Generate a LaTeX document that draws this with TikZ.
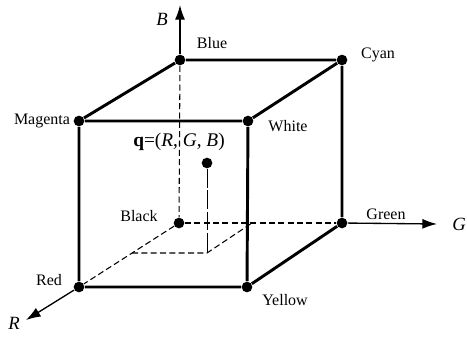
\documentclass[tikz,border=0pt]{standalone}
\usepackage{fontspec}
\setmainfont{Liberation Serif}
\usetikzlibrary{arrows.meta}
\tikzset{every picture/.style={line width=0.75pt}}
\tikzset{
    vertex/.style={circle, fill=black, inner sep=0pt, minimum size=8pt},
    edge/.style={line width=2.2pt},
    hidden/.style={line width=0.8pt, dash pattern={on 4.5pt off 2.5pt}},
    axis/.style={line width=1pt, -{Latex[length=11pt,width=7.5pt]}},
    colorlabel/.style={font=\fontsize{12}{14}\selectfont, inner sep=0pt},
    axislabel/.style={font=\fontsize{14}{16}\selectfont\itshape, inner sep=0pt}
}

\begin{document}
\begin{tikzpicture}[x=0.75pt, y=-0.75pt]
    \useasboundingbox (0,0) rectangle (467,336);
    \node[vertex] (blue) at (180,60) {};
    \node[vertex] (cyan) at (342,60) {};
    \node[vertex] (magenta) at (79,121) {};
    \node[vertex] (white) at (248,121) {};
    \node[vertex] (black) at (179,223) {};
    \node[vertex] (green) at (342,223) {};
    \node[vertex] (red) at (79,287) {};
    \node[vertex] (yellow) at (247,287) {};
    \node[vertex] (q) at (207,163) {};
    \coordinate (floorL) at (132,253);
    \coordinate (floorC) at (207,253);
    \coordinate (floorR) at (252,223);
    \coordinate (axisB) at (180,5);
    \coordinate (axisG) at (437,224);
    \coordinate (axisR) at (26,320);
    % hidden lines
    \draw[hidden] (blue) -- (black);
    \draw[hidden] (black) -- (green);
    \draw[hidden] (black) -- (red);
    \draw[hidden] (floorL) -- (floorC) -- (floorR);
    \draw[line width=0.6pt, dash pattern={on 14pt off 2pt}] (q) -- (floorC);
    % cube
    \draw[edge] (magenta) -- (white) -- (yellow) -- (red) -- (magenta);
    \draw[edge] (blue) -- (cyan) -- (green) -- (yellow);
    \draw[edge] (magenta) -- (blue);
    \draw[edge] (white) -- (cyan);
    % axes
    \draw[axis] (blue) -- (axisB);
    \draw[axis] (green) -- (axisG);
    \draw[axis] (red) -- (axisR);
    % labels
    \node[axislabel] (labelB) at (162,19) {B};
    \node[axislabel] (labelG) at (459,224) {G};
    \node[axislabel] (labelR) at (14,323) {R};
    \node[colorlabel] (nameBlue) at (212,43) {Blue};
    \node[colorlabel] (nameCyan) at (378,55) {Cyan};
    \node[colorlabel] (nameMagenta) at (42,121) {Magenta};
    \node[colorlabel] (nameWhite) at (288,126) {White};
    \node[colorlabel] (nameBlack) at (139,216) {Black};
    \node[colorlabel] (nameGreen) at (386,214) {Green};
    \node[colorlabel] (nameRed) at (49,280) {Red};
    \node[colorlabel] (nameYellow) at (285,300) {Yellow};
    \node[colorlabel, font=\fontsize{14.5}{16}\selectfont] (nameq) at (179,142) {\textbf{q}=(\textit{R}, \textit{G}, \textit{B})};
\end{tikzpicture}
\end{document}
